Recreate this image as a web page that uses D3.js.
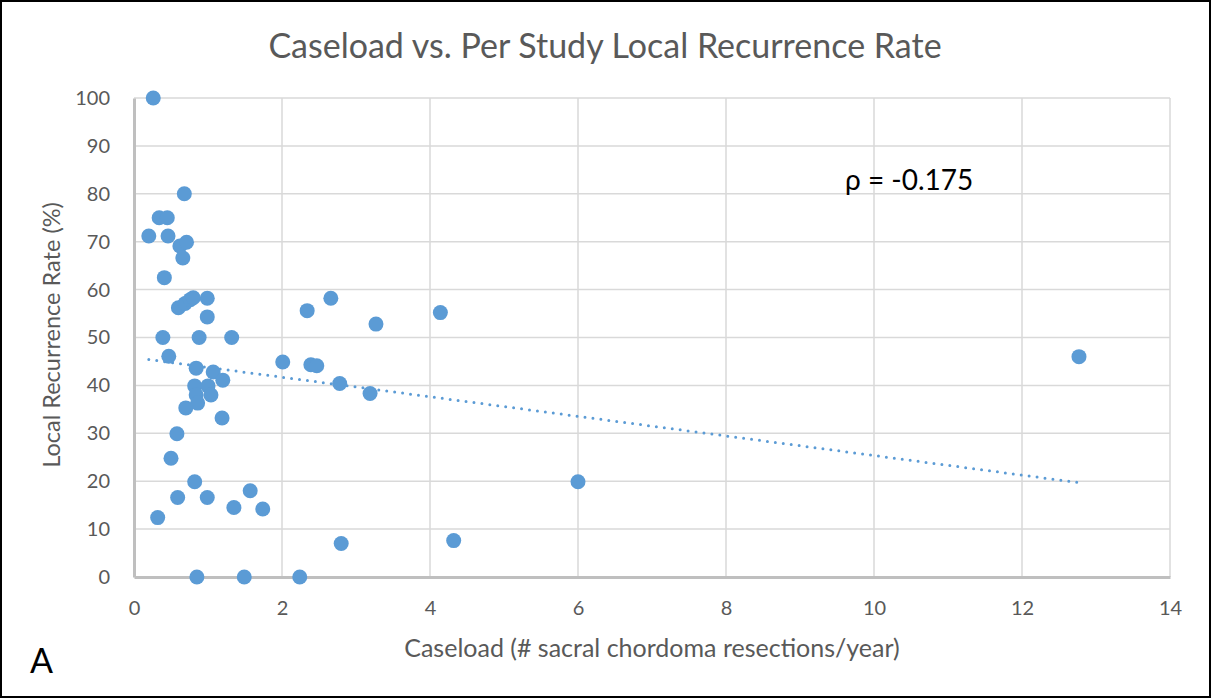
<!DOCTYPE html>
<html>
<head>
<meta charset="utf-8">
<script src="https://cdn.jsdelivr.net/npm/d3@7/dist/d3.min.js"></script>
<style>
  body { margin: 0; background: #fff; }
  svg { display: block; }
</style>
</head>
<body>
<svg id="chart" width="1211" height="698"></svg>
<script>
// caseload (resections/year) and local recurrence rate (%) per study
const caseload = [
  0.26, 0.20, 0.34, 0.45, 0.46, 0.68, 0.62, 0.71, 0.66, 0.41,
  0.60, 0.69, 0.76, 0.80, 0.99, 0.99, 0.39, 0.88, 1.32, 0.47,
  0.84, 1.07, 1.20, 0.82, 1.00, 0.84, 1.04, 0.86, 0.70, 1.19,
  0.58, 0.50, 0.82, 0.59, 0.99, 0.32, 1.35, 1.57, 1.74, 0.85,
  1.49, 2.24, 2.34, 2.66, 3.27, 4.14, 2.01, 2.39, 2.47, 2.78,
  3.19, 2.80, 4.32, 6.00, 12.77
];
const recurrence = [
  100, 71.2, 75, 75, 71.2, 80, 69.1, 69.9, 66.6, 62.5,
  56.2, 57.1, 57.9, 58.3, 58.2, 54.3, 50.0, 50.0, 50.0, 46.1,
  43.6, 42.8, 41.1, 39.9, 39.9, 38.0, 38.0, 36.3, 35.3, 33.2,
  29.9, 24.8, 19.9, 16.6, 16.6, 12.4, 14.5, 18.0, 14.2, 0,
  0, 0, 55.6, 58.2, 52.8, 55.2, 44.9, 44.3, 44.1, 40.4,
  38.3, 7.0, 7.6, 19.9, 46.0
];
const trendX = [0.2, 12.77];
const trendY = [45.4, 19.7];
const xTicks = [0, 2, 4, 6, 8, 10, 12, 14];
const yTicks = [0, 10, 20, 30, 40, 50, 60, 70, 80, 90, 100];

const svg = d3.select("#chart");
const width = 1211, height = 698;
const margin = { top: 98, right: 41, bottom: 121, left: 134 };
const font = "Lato, 'Open Sans', sans-serif";

// outer frame
svg.append("rect")
  .attr("x", 1).attr("y", 1)
  .attr("width", width - 2).attr("height", height - 2)
  .attr("fill", "#fff")
  .attr("stroke", "#000")
  .attr("stroke-width", 2);

const x = d3.scaleLinear().domain([0, 14]).range([margin.left, width - margin.right]);
const y = d3.scaleLinear().domain([0, 100]).range([height - margin.bottom, margin.top]);

// gridlines
svg.append("g")
  .selectAll("line.h")
  .data(yTicks.filter(d => d > 0))
  .enter().append("line")
  .attr("x1", x(0)).attr("x2", x(14))
  .attr("y1", d => y(d)).attr("y2", d => y(d))
  .attr("stroke", "#d9d9d9").attr("stroke-width", 1.5);

svg.append("g")
  .selectAll("line.v")
  .data(xTicks.filter(d => d > 0))
  .enter().append("line")
  .attr("x1", d => x(d)).attr("x2", d => x(d))
  .attr("y1", y(0)).attr("y2", y(100))
  .attr("stroke", "#d9d9d9").attr("stroke-width", 1.5);

// axes
const xAxis = svg.append("g")
  .attr("transform", `translate(0, ${y(0)})`)
  .call(d3.axisBottom(x).tickValues(xTicks).tickSize(0).tickPadding(24));
const yAxis = svg.append("g")
  .attr("transform", `translate(${x(0)}, 0)`)
  .call(d3.axisLeft(y).tickValues(yTicks).tickSize(0).tickPadding(24));

[xAxis, yAxis].forEach(g => {
  g.select(".domain").attr("stroke", "#bfbfbf").attr("stroke-width", 3);
  g.selectAll("text")
    .attr("fill", "#595959")
    .style("font-family", font)
    .style("font-size", "20px");
});

// trend line
svg.append("line")
  .attr("x1", x(trendX[0])).attr("y1", y(trendY[0]))
  .attr("x2", x(trendX[1])).attr("y2", y(trendY[1]))
  .attr("stroke", "#5b9bd5")
  .attr("stroke-width", 3)
  .attr("stroke-linecap", "round")
  .attr("stroke-dasharray", "0 8");

// points
svg.append("g")
  .selectAll("circle")
  .data(caseload.map((c, i) => ({ c, r: recurrence[i] })))
  .enter().append("circle")
  .attr("cx", d => x(d.c))
  .attr("cy", d => y(d.r))
  .attr("r", 7.5)
  .attr("fill", "#5b9bd5");

// titles
svg.append("text")
  .attr("x", 605).attr("y", 58)
  .attr("text-anchor", "middle")
  .attr("fill", "#595959")
  .style("font-family", font)
  .style("font-size", "34px")
  .text("Caseload vs. Per Study Local Recurrence Rate");

svg.append("text")
  .attr("x", 652).attr("y", 657)
  .attr("text-anchor", "middle")
  .attr("fill", "#595959")
  .style("font-family", font)
  .style("font-size", "25px")
  .text("Caseload (# sacral chordoma resections/year)");

svg.append("text")
  .attr("transform", "translate(60, 335) rotate(-90)")
  .attr("text-anchor", "middle")
  .attr("fill", "#595959")
  .style("font-family", font)
  .style("font-size", "23.5px")
  .text("Local Recurrence Rate (%)");

svg.append("text")
  .attr("x", 845).attr("y", 190)
  .attr("fill", "#000")
  .style("font-family", font)
  .style("font-size", "28px")
  .text("ρ = -0.175");

svg.append("text")
  .attr("x", 30).attr("y", 673)
  .attr("fill", "#000")
  .style("font-family", font)
  .style("font-size", "34px")
  .text("A");
</script>
</body>
</html>
